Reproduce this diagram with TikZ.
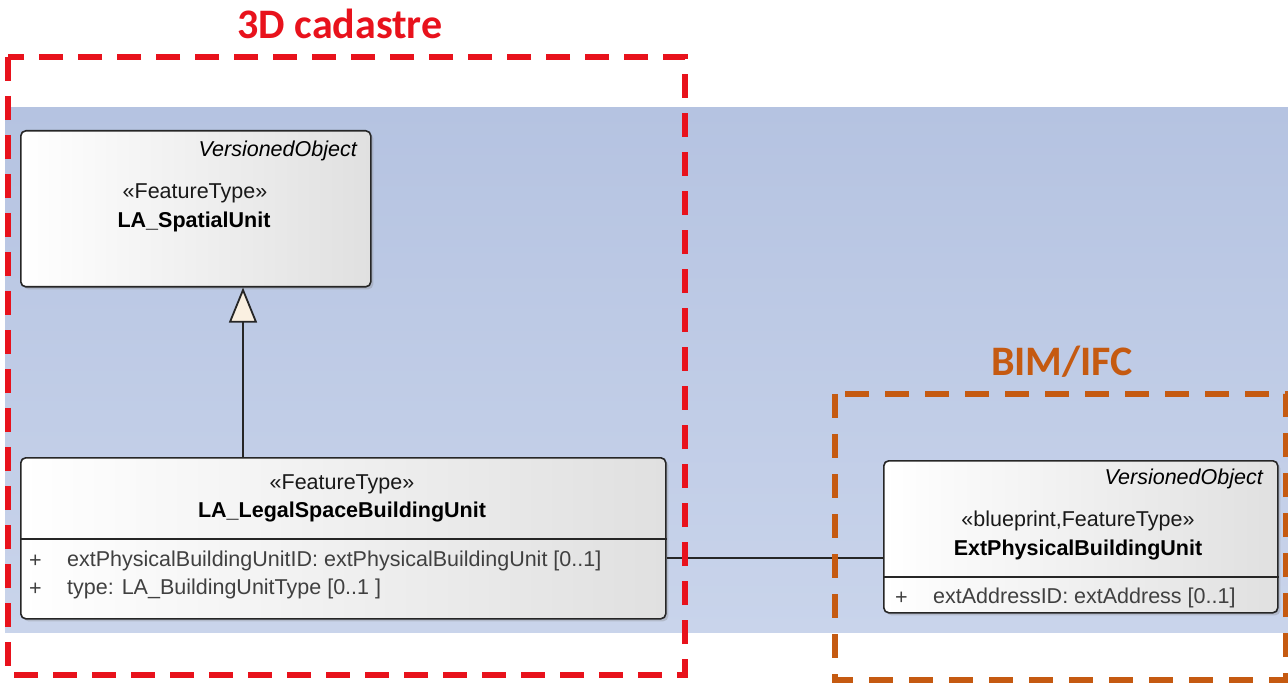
\documentclass[tikz,border=0pt]{standalone}
\usepackage{fontspec}
\setmainfont{Liberation Sans}
\newfontfamily\titlefont{Carlito}
\usetikzlibrary{arrows.meta,shadows}
\definecolor{cadred}{RGB}{232,18,28}
\definecolor{bimorange}{RGB}{197,90,17}
\definecolor{bgtop}{RGB}{181,195,225}
\definecolor{bgbot}{RGB}{201,212,235}
\definecolor{headfill}{RGB}{250,240,225}
\definecolor{boxgrey}{RGB}{224,224,224}
\newcommand{\umlfs}{\fontsize{21.5}{26}\selectfont}
\begin{document}
\begin{tikzpicture}[x=1pt,y=-1pt,
  umlbox/.style={draw=black!85, line width=1.6pt, rounded corners=5pt,
    left color=white, right color=boxgrey, inner sep=0pt, anchor=north west,
    drop shadow={shadow xshift=2.5pt, shadow yshift=-2.5pt, opacity=0.3}},
  utext/.style={font=\umlfs, inner sep=0pt, text=black!90},
  uital/.style={font=\umlfs\itshape, inner sep=0pt, anchor=east},
  uname/.style={font=\umlfs\bfseries, inner sep=0pt},
  uattr/.style={font=\umlfs, inner sep=0pt, anchor=west, text=black!75},
  sepline/.style={draw=black!85, line width=1.6pt},
  assoc/.style={draw=black!85, line width=1.8pt},
  gen/.style={draw=black!85, line width=1.8pt, -{Triangle[open, width=28pt, length=35pt, fill=headfill]}},
  redframe/.style={draw=cadred, line width=6pt, dash pattern=on 24pt off 15pt},
  orangeframe/.style={draw=bimorange, line width=5.5pt, dash pattern=on 24pt off 16pt},
  titletext/.style={font=\titlefont\bfseries\fontsize{42}{48}\selectfont, inner sep=0pt}
]
\useasboundingbox (0,0) rectangle (1288,684);
% background band
\fill[top color=bgtop, bottom color=bgbot] (5,108) rectangle (1288,632);

% LA_SpatialUnit
\node[umlbox, minimum width=350pt, minimum height=156pt] (spatial) at (20,130) {};
\node[uital] (spvo) at (357,151) {VersionedObject};
\node[utext] (spst) at (195,193) {«FeatureType»};
\node[uname] (spnm) at (194,222) {LA\_SpatialUnit};

% LA_LegalSpaceBuildingUnit
\node[umlbox, minimum width=645pt, minimum height=161pt] (lsbu) at (20,457) {};
\draw[sepline] (lsbu.west |- 0,539) -- (lsbu.east |- 0,539);
\node[utext] (lsst) at (342,484) {«FeatureType»};
\node[uname] (lsnm) at (342,512) {LA\_LegalSpaceBuildingUnit};
\node[uattr] (lsp1) at (29,561) {+};
\node[uattr] (lsa1) at (67,561) {extPhysicalBuildingUnitID: extPhysicalBuildingUnit [0..1]};
\node[uattr] (lsp2) at (29,589) {+};
\node[uattr] (lsa2) at (67,589) {type: LA\_BuildingUnitType [0..1 ]};

% ExtPhysicalBuildingUnit
\node[umlbox, minimum width=394pt, minimum height=152pt] (ext) at (883,460) {};
\draw[sepline] (ext.west |- 0,577) -- (ext.east |- 0,577);
\node[uital] (exvo) at (1263,479) {VersionedObject};
\node[utext] (exst) at (1078,521) {«blueprint,FeatureType»};
\node[uname] (exnm) at (1078,550) {ExtPhysicalBuildingUnit};
\node[uattr] (exp1) at (895,598) {+};
\node[uattr] (exa1) at (933,598) {extAddressID: extAddress [0..1]};

% connectors
\draw[gen] (lsbu.north -| 243,0) -- (spatial.south -| 243,0);
\draw[assoc] (lsbu.east |- 0,558) -- (ext.west |- 0,558);

% frames
\draw[redframe] (8,57) rectangle (685,675);
\draw[orangeframe] (835,394) rectangle (1286,680);
\node[titletext, text=cadred] (t1) at (340,24) {3D cadastre};
\node[titletext, text=bimorange] (t2) at (1062,362) {BIM/IFC};
\end{tikzpicture}
\end{document}
